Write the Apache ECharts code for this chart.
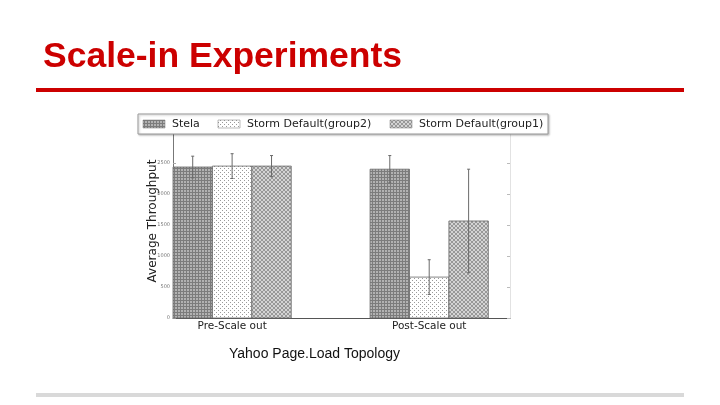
<!DOCTYPE html>
<html><head><meta charset="utf-8">
<script src="https://cdn.jsdelivr.net/npm/echarts@6/dist/echarts.min.js"></script>
<style>html,body{margin:0;padding:0;background:#fff}#c{width:720px;height:405px}</style>
</head><body><div id="c"></div>
<script>
const categories = ['Pre-Scale out', 'Post-Scale out'];
const seriesNames = ['Stela', 'Storm Default(group2)', 'Storm Default(group1)'];
const stelaValues = [2435, 2400];
const stelaErrors = [175, 220];
const group2Values = [2450, 660];
const group2Errors = [200, 280];
const group1Values = [2450, 1565];
const group1Errors = [170, 835];
const yTicks = [0, 500, 1000, 1500, 2000, 2500, 3000];

function makePattern(kind) {
  const c = document.createElement('canvas');
  const ctx = c.getContext('2d');
  if (kind === 0) {
    c.width = 3; c.height = 3;
    ctx.fillStyle = '#b2b2b2'; ctx.fillRect(0,0,3,3);
    ctx.fillStyle = '#7c7c7c'; ctx.fillRect(0,0,3,1); ctx.fillRect(0,0,1,3);
  } else if (kind === 1) {
    c.width = 4; c.height = 4;
    ctx.fillStyle = '#ffffff'; ctx.fillRect(0,0,4,4);
    ctx.fillStyle = '#9a9a9a'; ctx.fillRect(0,0,1,1); ctx.fillRect(2,2,1,1);
  } else {
    c.width = 4; c.height = 4;
    ctx.fillStyle = '#d4d4d4'; ctx.fillRect(0,0,4,4);
    ctx.fillStyle = '#989898';
    ctx.fillRect(1,0,2,1); ctx.fillRect(0,1,1,2); ctx.fillRect(3,1,1,2); ctx.fillRect(1,3,2,1);
  }
  return c;
}
const patterns = [makePattern(0), makePattern(1), makePattern(2)];
const allValues = [stelaValues, group2Values, group1Values];
const allErrors = [stelaErrors, group2Errors, group1Errors];
const barW = 0.2;

const chart = echarts.init(document.getElementById('c'), null, {renderer: 'canvas'});

const series = seriesNames.map((name, s) => ({
  type: 'custom',
  name: name,
  data: allValues[s].map((v, i) => [i, v, allErrors[s][i]]),
  renderItem: function (params, api) {
    const g = api.value(0), v = api.value(1), e = api.value(2);
    const x0 = g + barW * s, x1 = x0 + barW, xc = x0 + barW / 2;
    const pTop = api.coord([x0, v]);
    const pBot = api.coord([x1, 0]);
    const eTop = api.coord([xc, v + e]);
    const eBot = api.coord([xc, v - e]);
    return {
      type: 'group',
      children: [
        {type: 'rect', shape: {x: pTop[0], y: pTop[1], width: pBot[0] - pTop[0], height: pBot[1] - pTop[1]},
         style: {fill: {image: patterns[s], repeat: 'repeat'}, stroke: '#666', lineWidth: 0.8}},
        {type: 'line', shape: {x1: eTop[0], y1: eTop[1], x2: eBot[0], y2: eBot[1]}, style: {stroke: '#6a6a6a', lineWidth: 1}},
        {type: 'line', shape: {x1: eTop[0]-1.5, y1: eTop[1], x2: eTop[0]+1.5, y2: eTop[1]}, style: {stroke: '#6a6a6a', lineWidth: 1}},
        {type: 'line', shape: {x1: eBot[0]-1.5, y1: eBot[1], x2: eBot[0]+1.5, y2: eBot[1]}, style: {stroke: '#6a6a6a', lineWidth: 1}}
      ]
    };
  }
}));

const legendItems = [];
const legendX = [143, 218, 390];
seriesNames.forEach((n, s) => {
  legendItems.push({type: 'rect', z: 60, shape: {x: legendX[s], y: 120, width: 22, height: 8},
    style: {fill: {image: patterns[s], repeat: 'repeat'}, stroke: '#777', lineWidth: 0.5}});
  legendItems.push({type: 'text', z: 60, x: legendX[s] + 29, y: 124,
    style: {text: n, font: '11px "DejaVu Sans"', fill: '#222', verticalAlign: 'middle'}});
});

chart.setOption({
  animation: false,
  backgroundColor: '#ffffff',
  title: {
    text: 'Scale-in Experiments', left: 38, top: 34,
    textStyle: {color: '#cc0000', fontFamily: 'Liberation Sans, Arial', fontWeight: 'bold', fontSize: 35.5}
  },
  grid: {left: 173, right: 210, top: 132, bottom: 87},
  xAxis: {
    type: 'value', min: 0, max: 1.71,
    axisLine: {show: true, onZero: false, lineStyle: {color: '#555', width: 1}},
    axisTick: {show: false},
    splitLine: {show: false},
    axisLabel: {
      customValues: [0.3, 1.3],
      formatter: function (v) { return categories[Math.round(v - 0.3)]; },
      color: '#222', fontSize: 10.5, fontFamily: 'DejaVu Sans', margin: 3
    }
  },
  yAxis: [{
    type: 'value', min: 0, max: 3000, interval: 500,
    name: 'Average Throughput', nameLocation: 'middle', nameGap: 14, nameMoveOverlap: false,
    nameTextStyle: {fontFamily: 'DejaVu Sans', fontSize: 12, color: '#222', padding: [0, 0, 0, 8]},
    axisLine: {show: true, lineStyle: {color: '#777'}},
    axisTick: {show: true, inside: true, length: 3, lineStyle: {color: '#aaa'}},
    splitLine: {show: false},
    axisLabel: {fontSize: 5, color: '#777', margin: 3, fontFamily: 'DejaVu Sans',
      formatter: function (v) { return yTicks.indexOf(v) >= 0 ? String(v) : ''; }}
  }, {
    type: 'value', min: 0, max: 3000, interval: 500, position: 'right',
    axisLine: {show: true, lineStyle: {color: '#e2e2e2'}},
    axisTick: {show: true, inside: true, length: 3, lineStyle: {color: '#bbb'}},
    axisLabel: {show: false}, splitLine: {show: false}
  }],
  series: series,
  graphic: [
    {type: 'rect', shape: {x: 36, y: 88, width: 648, height: 4}, style: {fill: '#cc0000'}},
    {type: 'rect', shape: {x: 36, y: 393, width: 648, height: 4}, style: {fill: '#d9d9d9'}},
    {type: 'text', x: 229, y: 347, style: {text: 'Yahoo Page.Load Topology', font: '14px "Liberation Sans", Arial', fill: '#111'}},
    {type: 'rect', z: 50, shape: {x: 138, y: 114, width: 410, height: 20}, style: {fill: '#fff', stroke: '#9a9a9a', lineWidth: 1, shadowBlur: 2, shadowColor: 'rgba(0,0,0,0.25)', shadowOffsetX: 1, shadowOffsetY: 1}}
  ].concat(legendItems)
});
</script></body></html>
